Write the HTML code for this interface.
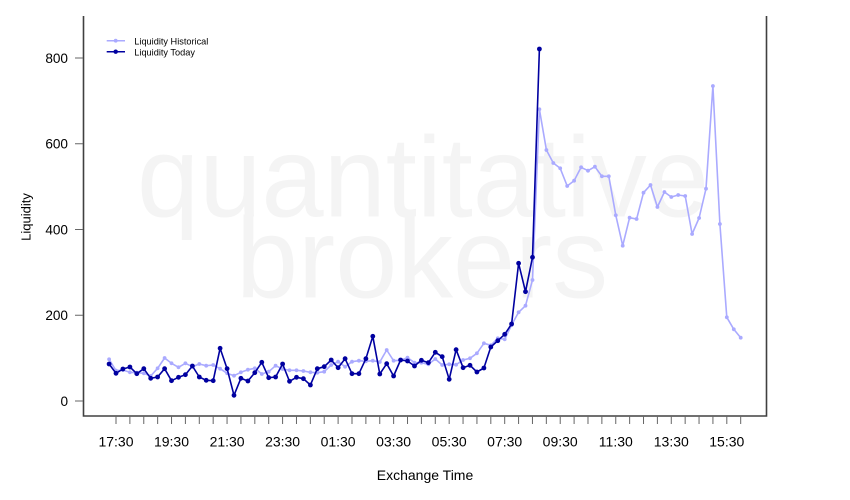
<!DOCTYPE html>
<html>
<head>
<meta charset="utf-8">
<style>
html,body{margin:0;padding:0;background:#fff;}
svg{display:block;font-family:"Liberation Sans",Arial,sans-serif;}
</style>
</head>
<body>
<svg width="850" height="500" viewBox="0 0 850 500" xmlns="http://www.w3.org/2000/svg">
<defs>
<marker id="mh" markerUnits="userSpaceOnUse" markerWidth="6" markerHeight="6" refX="3" refY="3"><circle cx="3" cy="3" r="1.9" fill="#aaaaff"/></marker>
<marker id="mt" markerUnits="userSpaceOnUse" markerWidth="8" markerHeight="8" refX="4" refY="4"><circle cx="4" cy="4" r="2.4" fill="#0000a0"/></marker>
</defs>
<rect width="850" height="500" fill="#fff"/>
<!-- watermark -->
<text x="137" y="216.7" font-size="114" fill="#f4f4f4" textLength="572" lengthAdjust="spacingAndGlyphs">quantitative</text>
<text x="236" y="297.3" font-size="114" fill="#f4f4f4" textLength="372" lengthAdjust="spacingAndGlyphs">brokers</text>

<!-- historical -->
<polyline fill="none" stroke="#aaaaff" stroke-width="1.6" stroke-linejoin="round" marker-start="url(#mh)" marker-mid="url(#mh)" marker-end="url(#mh)" points="109.1,359.3 116.0,370.7 122.9,370 129.9,372.3 136.8,372.7 143.8,373.3 150.7,376 157.6,368.3 164.6,358 171.5,363.3 178.5,367.3 185.4,363.3 192.4,366.7 199.3,364 206.2,365.7 213.2,365 220.1,368.7 227.1,373.3 234.0,375.7 240.9,372.3 247.9,369.7 254.8,368.3 261.8,374 268.7,371.7 275.6,365.7 282.6,369 289.5,370.3 296.5,370.3 303.4,371 310.4,372.3 317.3,372.7 324.2,371.7 331.2,365 338.1,361.7 345.1,366.7 352.0,361.7 358.9,360.7 365.9,361.3 372.8,360.7 379.8,362 386.7,350 393.6,360.7 400.6,360.3 407.5,357.7 414.5,362.7 421.4,362.7 428.4,364.3 435.3,359 442.2,365 449.2,364.3 456.1,364.7 463.1,360 470.0,358.3 476.9,353.3 483.9,343.3 490.8,345.3 497.8,338.3 504.7,339.3 511.6,325 518.6,312.3 525.5,305.7 532.5,280 539.4,109.3 546.4,150 553.3,163 560.2,168.3 567.2,186 574.1,180.7 581.1,167.3 588.0,170.7 594.9,166.7 601.9,176.3 608.8,176.3 615.8,215.3 622.7,245.7 629.6,217.7 636.6,219 643.5,192.7 650.5,185 657.4,207 664.4,192 671.3,197 678.2,195 685.2,196 692.1,234 699.1,218 706.0,188.7 712.9,86 719.9,224 726.8,317.3 733.8,329.3 740.7,337.7"/>

<!-- today -->
<polyline fill="none" stroke="#0000a0" stroke-width="1.6" stroke-linejoin="round" marker-start="url(#mt)" marker-mid="url(#mt)" marker-end="url(#mt)" points="109.1,364 116.0,373.3 122.9,369 129.9,367 136.8,373.7 143.8,368.7 150.7,378.3 157.6,377 164.6,368.7 171.5,380.7 178.5,377.3 185.4,374.7 192.4,366 199.3,377 206.2,380.3 213.2,380.7 220.1,348.3 227.1,368.7 234.0,395.3 240.9,378.3 247.9,381 254.8,372.7 261.8,362.3 268.7,377.7 275.6,377 282.6,364 289.5,381.3 296.5,377.3 303.4,378.7 310.4,385 317.3,368.7 324.2,366.7 331.2,360 338.1,367.7 345.1,358.7 352.0,373.7 358.9,373.7 365.9,358.7 372.8,336.3 379.8,374 386.7,363.7 393.6,376 400.6,360 407.5,361 414.5,366 421.4,360.3 428.4,362.7 435.3,352.3 442.2,356.7 449.2,379.3 456.1,349.7 463.1,367.7 470.0,365.3 476.9,372 483.9,368 490.8,347 497.8,340.7 504.7,334.3 511.6,324 518.6,263.3 525.5,291.7 532.5,257.3 539.4,49"/>

<!-- axes -->
<path d="M83.5,16 V416 H766.5 V16" fill="none" stroke="#404040" stroke-width="1.6"/>
<!-- y ticks -->
<path d="M75,401H83M75,315.25H83M75,229.5H83M75,143.75H83M75,58H83" stroke="#666" stroke-width="1"/>
<g font-size="13.6" fill="#000" text-anchor="end">
<text x="68" y="406">0</text>
<text x="68" y="320">200</text>
<text x="68" y="234.5">400</text>
<text x="68" y="148.5">600</text>
<text x="68" y="63">800</text>
</g>
<!-- x ticks -->
<path stroke="#666" stroke-width="1" d="M116,416v8m13.882,-8v8m13.882,-8v8m13.882,-8v8m13.882,-8v8m13.882,-8v8m13.882,-8v8m13.882,-8v8m13.882,-8v8m13.882,-8v8m13.882,-8v8m13.882,-8v8m13.882,-8v8m13.882,-8v8m13.882,-8v8m13.882,-8v8m13.882,-8v8m13.882,-8v8m13.882,-8v8m13.882,-8v8m13.882,-8v8m13.882,-8v8m13.882,-8v8m13.882,-8v8m13.882,-8v8m13.882,-8v8m13.882,-8v8m13.882,-8v8m13.882,-8v8m13.882,-8v8m13.882,-8v8m13.882,-8v8m13.882,-8v8m13.882,-8v8m13.882,-8v8m13.882,-8v8m13.882,-8v8m13.882,-8v8m13.882,-8v8m13.882,-8v8m13.882,-8v8m13.882,-8v8m13.882,-8v8m13.882,-8v8m13.882,-8v8m13.882,-8v8"/>
<g font-size="14" fill="#000" text-anchor="middle">
<text x="116.0" y="446.5">17:30</text>
<text x="171.5" y="446.5">19:30</text>
<text x="227.1" y="446.5">21:30</text>
<text x="282.6" y="446.5">23:30</text>
<text x="338.1" y="446.5">01:30</text>
<text x="393.6" y="446.5">03:30</text>
<text x="449.2" y="446.5">05:30</text>
<text x="504.7" y="446.5">07:30</text>
<text x="560.2" y="446.5">09:30</text>
<text x="615.8" y="446.5">11:30</text>
<text x="671.3" y="446.5">13:30</text>
<text x="726.8" y="446.5">15:30</text>
</g>
<text x="425" y="480" font-size="14" text-anchor="middle" fill="#000">Exchange Time</text>
<text transform="translate(30.5,217) rotate(-90)" font-size="13" text-anchor="middle" fill="#000">Liquidity</text>

<!-- legend -->
<line x1="106.7" y1="40.7" x2="125" y2="40.7" stroke="#aaaaff" stroke-width="1.5"/>
<circle cx="115.7" cy="40.7" r="1.9" fill="#aaaaff"/>
<line x1="106.7" y1="51.7" x2="125" y2="51.7" stroke="#0000a0" stroke-width="1.5"/>
<circle cx="115.7" cy="51.7" r="2.2" fill="#0000a0"/>
<g font-size="9.2" fill="#000">
<text x="134.3" y="44.5">Liquidity Historical</text>
<text x="134.3" y="55.5">Liquidity Today</text>
</g>
</svg>
</body>
</html>
